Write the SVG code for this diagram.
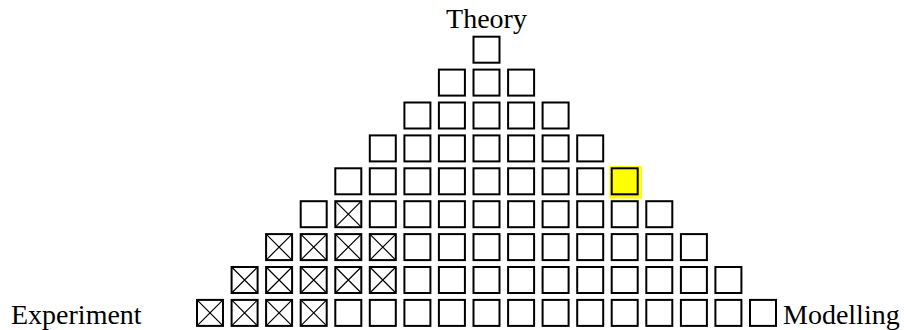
<svg xmlns="http://www.w3.org/2000/svg" xmlns:xlink="http://www.w3.org/1999/xlink" width="904" height="330" viewBox="0 0 904 330">
<style>
.bx{fill:#fff;stroke:#000;stroke-width:2}
.cr{fill:none;stroke:#000;stroke-width:1.2}
.t{font-family:"Liberation Serif","Times New Roman",serif;font-size:28px;fill:#000}
</style>
<defs>
<rect id="b" width="26" height="26" class="bx"/>
<g id="x"><rect width="26" height="26" class="bx"/><path d="M0,0L26,26M26,0L0,26" class="cr"/></g>
</defs>
<rect width="904" height="330" fill="#fff"/>
<g id="labels">
<text class="t" x="486.5" y="27.5" text-anchor="middle">Theory</text>
<text class="t" x="11" y="323.5">Experiment</text>
<text class="t" x="783" y="323.5">Modelling</text>
</g>
<g id="connectors"></g>
<g id="row0">
<g id="n0_0"><use href="#b" x="473.5" y="36.7"/></g>
</g>
<g id="row1">
<g id="n1_-1"><use href="#b" x="438.9" y="69.6"/></g>
<g id="n1_0"><use href="#b" x="473.5" y="69.6"/></g>
<g id="n1_1"><use href="#b" x="508.1" y="69.6"/></g>
</g>
<g id="row2">
<g id="n2_-2"><use href="#b" x="404.4" y="102.5"/></g>
<g id="n2_-1"><use href="#b" x="438.9" y="102.5"/></g>
<g id="n2_0"><use href="#b" x="473.5" y="102.5"/></g>
<g id="n2_1"><use href="#b" x="508.1" y="102.5"/></g>
<g id="n2_2"><use href="#b" x="542.6" y="102.5"/></g>
</g>
<g id="row3">
<g id="n3_-3"><use href="#b" x="369.8" y="135.4"/></g>
<g id="n3_-2"><use href="#b" x="404.4" y="135.4"/></g>
<g id="n3_-1"><use href="#b" x="438.9" y="135.4"/></g>
<g id="n3_0"><use href="#b" x="473.5" y="135.4"/></g>
<g id="n3_1"><use href="#b" x="508.1" y="135.4"/></g>
<g id="n3_2"><use href="#b" x="542.6" y="135.4"/></g>
<g id="n3_3"><use href="#b" x="577.2" y="135.4"/></g>
</g>
<g id="row4">
<g id="n4_-4"><use href="#b" x="335.3" y="168.3"/></g>
<g id="n4_-3"><use href="#b" x="369.8" y="168.3"/></g>
<g id="n4_-2"><use href="#b" x="404.4" y="168.3"/></g>
<g id="n4_-1"><use href="#b" x="438.9" y="168.3"/></g>
<g id="n4_0"><use href="#b" x="473.5" y="168.3"/></g>
<g id="n4_1"><use href="#b" x="508.1" y="168.3"/></g>
<g id="n4_2"><use href="#b" x="542.6" y="168.3"/></g>
<g id="n4_3"><use href="#b" x="577.2" y="168.3"/></g>
<g id="n4_4"><rect x="609.4" y="166" width="32.6" height="32.6" fill="#ffff00"/><rect x="611.7" y="168.3" width="26" height="26" class="bx" style="fill:#ffff00"/></g>
</g>
<g id="row5">
<g id="n5_-5"><use href="#b" x="300.7" y="201.2"/></g>
<g id="n5_-4"><use href="#x" x="335.3" y="201.2"/></g>
<g id="n5_-3"><use href="#b" x="369.8" y="201.2"/></g>
<g id="n5_-2"><use href="#b" x="404.4" y="201.2"/></g>
<g id="n5_-1"><use href="#b" x="438.9" y="201.2"/></g>
<g id="n5_0"><use href="#b" x="473.5" y="201.2"/></g>
<g id="n5_1"><use href="#b" x="508.1" y="201.2"/></g>
<g id="n5_2"><use href="#b" x="542.6" y="201.2"/></g>
<g id="n5_3"><use href="#b" x="577.2" y="201.2"/></g>
<g id="n5_4"><use href="#b" x="611.7" y="201.2"/></g>
<g id="n5_5"><use href="#b" x="646.3" y="201.2"/></g>
</g>
<g id="row6">
<g id="n6_-6"><use href="#x" x="266.1" y="234.1"/></g>
<g id="n6_-5"><use href="#x" x="300.7" y="234.1"/></g>
<g id="n6_-4"><use href="#x" x="335.3" y="234.1"/></g>
<g id="n6_-3"><use href="#x" x="369.8" y="234.1"/></g>
<g id="n6_-2"><use href="#b" x="404.4" y="234.1"/></g>
<g id="n6_-1"><use href="#b" x="438.9" y="234.1"/></g>
<g id="n6_0"><use href="#b" x="473.5" y="234.1"/></g>
<g id="n6_1"><use href="#b" x="508.1" y="234.1"/></g>
<g id="n6_2"><use href="#b" x="542.6" y="234.1"/></g>
<g id="n6_3"><use href="#b" x="577.2" y="234.1"/></g>
<g id="n6_4"><use href="#b" x="611.7" y="234.1"/></g>
<g id="n6_5"><use href="#b" x="646.3" y="234.1"/></g>
<g id="n6_6"><use href="#b" x="680.9" y="234.1"/></g>
</g>
<g id="row7">
<g id="n7_-7"><use href="#x" x="231.6" y="267"/></g>
<g id="n7_-6"><use href="#x" x="266.1" y="267"/></g>
<g id="n7_-5"><use href="#x" x="300.7" y="267"/></g>
<g id="n7_-4"><use href="#x" x="335.3" y="267"/></g>
<g id="n7_-3"><use href="#x" x="369.8" y="267"/></g>
<g id="n7_-2"><use href="#b" x="404.4" y="267"/></g>
<g id="n7_-1"><use href="#b" x="438.9" y="267"/></g>
<g id="n7_0"><use href="#b" x="473.5" y="267"/></g>
<g id="n7_1"><use href="#b" x="508.1" y="267"/></g>
<g id="n7_2"><use href="#b" x="542.6" y="267"/></g>
<g id="n7_3"><use href="#b" x="577.2" y="267"/></g>
<g id="n7_4"><use href="#b" x="611.7" y="267"/></g>
<g id="n7_5"><use href="#b" x="646.3" y="267"/></g>
<g id="n7_6"><use href="#b" x="680.9" y="267"/></g>
<g id="n7_7"><use href="#b" x="715.4" y="267"/></g>
</g>
<g id="row8">
<g id="n8_-8"><use href="#x" x="197" y="299.9"/></g>
<g id="n8_-7"><use href="#x" x="231.6" y="299.9"/></g>
<g id="n8_-6"><use href="#x" x="266.1" y="299.9"/></g>
<g id="n8_-5"><use href="#x" x="300.7" y="299.9"/></g>
<g id="n8_-4"><use href="#b" x="335.3" y="299.9"/></g>
<g id="n8_-3"><use href="#b" x="369.8" y="299.9"/></g>
<g id="n8_-2"><use href="#b" x="404.4" y="299.9"/></g>
<g id="n8_-1"><use href="#b" x="438.9" y="299.9"/></g>
<g id="n8_0"><use href="#b" x="473.5" y="299.9"/></g>
<g id="n8_1"><use href="#b" x="508.1" y="299.9"/></g>
<g id="n8_2"><use href="#b" x="542.6" y="299.9"/></g>
<g id="n8_3"><use href="#b" x="577.2" y="299.9"/></g>
<g id="n8_4"><use href="#b" x="611.7" y="299.9"/></g>
<g id="n8_5"><use href="#b" x="646.3" y="299.9"/></g>
<g id="n8_6"><use href="#b" x="680.9" y="299.9"/></g>
<g id="n8_7"><use href="#b" x="715.4" y="299.9"/></g>
<g id="n8_8"><use href="#b" x="750" y="299.9"/></g>
</g>
</svg>
